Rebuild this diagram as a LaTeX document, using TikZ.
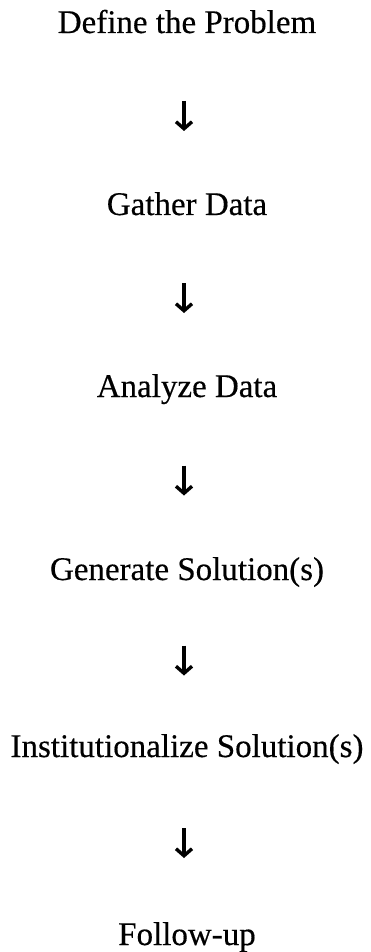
\documentclass[tikz,border=0pt]{standalone}
\usepackage{fontspec}
\setmainfont{Liberation Serif}
\newfontfamily\stagefont[FakeBold=0.4]{Liberation Serif}
\usepackage{tikz}
\usetikzlibrary{calc}
\usetikzlibrary{arrows.meta}
\tikzset{>=latex}
\tikzstyle{stage} = [draw=none, inner sep=0, anchor=base, text height=11pt, text depth=3pt, font=\stagefont\fontsize{16.5}{18}\selectfont]
\tikzstyle{flow} = [-{Straight Barb[length=3.5pt, width=8pt]}, line width=1.7pt]

\begin{document}
\begin{tikzpicture}[x=1pt, y=1pt]
\useasboundingbox (0,0) rectangle (185,-476);
%\draw[help lines] (0,0) rectangle (185,-476);
\node [stage] (def) at (93.5, -16.5) {Define the Problem};
\node [stage] (gat) at (93.5, -107.5) {Gather Data};
\node [stage] (ana) at (93.5, -198.5) {Analyze Data};
\node [stage] (gen) at (93.5, -290) {Generate Solution(s)};
\node [stage] (ins) at (93.5, -378.5) {Institutionalize Solution(s)};
\node [stage] (fol) at (93.5, -472.5) {Follow-up};
% short arrows, centred in each gap
\foreach \a/\b in {def/gat, gat/ana, ana/gen, gen/ins, ins/fol}
  \draw [flow] ($(\a.south)!0.5!(\b.north) + (-1.5, 7.5)$) -- ++(0, -15);
\end{tikzpicture}
\end{document}
